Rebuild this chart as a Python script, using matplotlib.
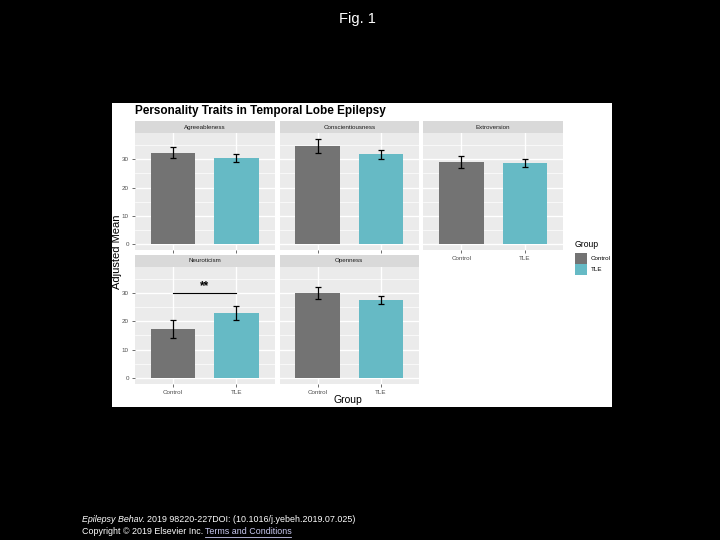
import matplotlib
matplotlib.use("Agg")
import matplotlib.pyplot as plt

plt.rcParams["font.family"] = ["Liberation Sans", "DejaVu Sans"]

# Данные
traits = ["Agreeableness", "Conscientiousness", "Extroversion", "Neuroticism", "Openness"]
groups = ["Control", "TLE"]
means_control = [32.3, 34.6, 29.1, 17.2, 30.0]
means_tle = [30.3, 31.7, 28.6, 22.9, 27.6]
se_control = [2.05, 2.45, 2.15, 3.15, 2.15]
se_tle = [1.45, 1.6, 1.45, 2.3, 1.4]
y_ticks = [0, 10, 20, 30]

color_control = "#737373"
color_tle = "#66BAC5"

W, H = 720, 540
fig = plt.figure(figsize=(7.2, 5.4), dpi=100, facecolor="black")


def rect(x0, y0, x1, y1):
    # пиксели (сверху вниз) -> доли фигуры
    return [x0 / W, 1 - y1 / H, (x1 - x0) / W, (y1 - y0) / H]


# Белая подложка рисунка
bg = fig.add_axes(rect(112, 103, 612, 407))
bg.set_facecolor("white")
bg.set_xticks([])
bg.set_yticks([])
for s in bg.spines.values():
    s.set_visible(False)

# Положение панелей (левый край, верх области графика)
panels = [(135, 133.3), (279.5, 133.3), (423.3, 133.3), (135, 267), (279.5, 267)]
pw, ph = 139.5, 116.5
strip_h = 12.3

for i, (trait, (px, py)) in enumerate(zip(traits, panels)):
    ax = fig.add_axes(rect(px, py, px + pw, py + ph))
    ax.set_facecolor("#EBEBEB")
    for s in ax.spines.values():
        s.set_visible(False)
    ax.set_xlim(0.4, 2.6)
    ax.set_ylim(-1.9, 39.1)
    for y in [5, 15, 25, 35]:
        ax.axhline(y, color="white", lw=0.5, zorder=0)
    for y in y_ticks:
        ax.axhline(y, color="white", lw=1.0, zorder=0)
    for x in [1, 2]:
        ax.axvline(x, color="white", lw=1.0, zorder=0)

    ax.bar([1, 2], [means_control[i], means_tle[i]], width=0.7,
           color=[color_control, color_tle], zorder=2)
    ax.errorbar([1, 2], [means_control[i], means_tle[i]],
                yerr=[se_control[i], se_tle[i]], fmt="none", ecolor="black",
                elinewidth=0.9, capsize=2.4, capthick=0.9, zorder=3)

    ax.set_xticks([1, 2])
    ax.set_yticks(y_ticks)
    ax.tick_params(axis="both", length=2.5, width=0.5, color="#333333",
                   labelsize=4.5, labelcolor="#4D4D4D", pad=2)
    if i in (2, 3, 4):
        ax.set_xticklabels(groups)
    else:
        ax.set_xticklabels([])
    if i in (0, 3):
        ax.set_yticklabels([str(t) for t in y_ticks])
    else:
        ax.set_yticklabels([])
        ax.tick_params(axis="y", length=0)

    # Значимость для нейротизма
    if trait == "Neuroticism":
        ax.plot([1, 2], [30, 30], color="black", lw=0.8, zorder=3)
        ax.text(1.5, 30.4, "**", ha="center", va="bottom", fontsize=8.5,
                fontweight="bold", color="black")

    # Полоса с названием
    st = fig.add_axes(rect(px, py - strip_h, px + pw, py))
    st.set_facecolor("#D9D9D9")
    st.set_xticks([])
    st.set_yticks([])
    for s in st.spines.values():
        s.set_visible(False)
    st.text(0.5, 0.5, trait, ha="center", va="center", fontsize=4.5,
            color="#1A1A1A", transform=st.transAxes)

# Заголовок рисунка
fig.text(135 / W, 1 - 111 / H, "Personality Traits in Temporal Lobe Epilepsy",
         ha="left", va="center", fontsize=8.5, fontweight="bold", color="black")

# Подписи осей
fig.text(117.5 / W, 1 - 252 / H, "Adjusted Mean", rotation=90, ha="center",
         va="center", fontsize=8, color="black")
fig.text(348 / W, 1 - 400 / H, "Group", ha="center", va="center",
         fontsize=7.5, color="black")

# Легенда
fig.text(575 / W, 1 - 244.5 / H, "Group", ha="left", va="center",
         fontsize=6.2, color="black")
for j, (g, c) in enumerate(zip(groups, [color_control, color_tle])):
    y0 = 252.7 + j * 11.3
    key = fig.add_axes(rect(575, y0, 586.5, y0 + 11.3))
    key.set_facecolor(c)
    key.set_xticks([])
    key.set_yticks([])
    for s in key.spines.values():
        s.set_visible(False)
    fig.text(590.5 / W, 1 - (y0 + 5.6) / H, g, ha="left", va="center",
             fontsize=4.5, color="black")

# Заголовок слайда
fig.text(357 / W, 1 - 19 / H, "Fig. 1", ha="center", va="center",
         fontsize=10.5, color="white")

# Подпись внизу
renderer = fig.canvas.get_renderer()
t1 = fig.text(82 / W, 1 - 519 / H, "Epilepsy Behav.", ha="left", va="center",
              fontsize=6.4, style="italic", color="white")
x_end = t1.get_window_extent(renderer).x1
fig.text(x_end / W + 0.003, 1 - 519 / H,
         "2019 98220-227DOI: (10.1016/j.yebeh.2019.07.025)",
         ha="left", va="center", fontsize=6.4, color="white")
t2 = fig.text(82 / W, 1 - 532 / H, "Copyright © 2019 Elsevier Inc.",
              ha="left", va="center", fontsize=6.4, color="white")
x_end = t2.get_window_extent(renderer).x1
t3 = fig.text(x_end / W + 0.002, 1 - 532 / H, "Terms and Conditions",
              ha="left", va="center", fontsize=6.4, color="#C8C8F0")
bb = t3.get_window_extent(renderer)
fig.add_artist(plt.Line2D([bb.x0 / W, bb.x1 / W], [(bb.y0 - 0.5) / H] * 2,
                          color="#C8C8F0", lw=0.6))

fig.savefig("out.png", dpi=100, facecolor="black")
